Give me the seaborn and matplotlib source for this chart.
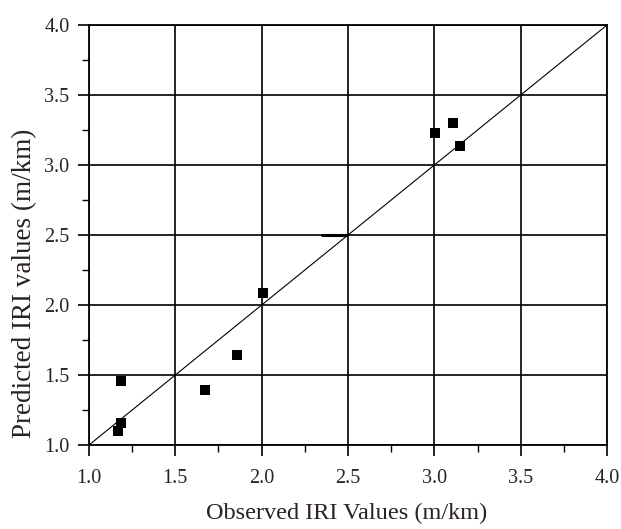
import matplotlib
matplotlib.use("Agg")
import matplotlib.pyplot as plt
import seaborn as sns
import pandas as pd
from matplotlib.ticker import MultipleLocator

observed = [1.188, 1.188, 1.168, 1.670, 1.860, 2.005, 3.003, 3.109, 3.148]
predicted = [1.454, 1.157, 1.102, 1.390, 1.645, 2.086, 3.229, 3.300, 3.138]
line_x = [1.0, 4.0]
line_y = [1.0, 4.0]
seg_x = [2.352, 2.497]
seg_y = [2.5, 2.5]

sns.set_theme(style="white")
plt.rcParams['font.family'] = ['Liberation Serif', 'DejaVu Serif']

fig = plt.figure(figsize=(6.21, 5.29), dpi=100)
ax = fig.add_axes([0.1433, 0.1588, 0.8342, 0.7939])

df = pd.DataFrame({"obs": observed, "pred": predicted})
sns.lineplot(x=line_x, y=line_y, ax=ax, color="black", linewidth=0.8, zorder=2)
sns.lineplot(x=seg_x, y=seg_y, ax=ax, color="black", linewidth=2.2, zorder=2)
sns.scatterplot(data=df, x="obs", y="pred", ax=ax, marker="s", s=42,
                color="black", edgecolor="black", linewidth=0, zorder=3)

ax.set_xlim(1.0, 4.0)
ax.set_ylim(1.0, 4.0)
ax.xaxis.set_major_locator(MultipleLocator(0.5))
ax.yaxis.set_major_locator(MultipleLocator(0.5))
ax.xaxis.set_minor_locator(MultipleLocator(0.25))
ax.yaxis.set_minor_locator(MultipleLocator(0.25))
ax.grid(True, which="major", color="black", linewidth=1.2)
ax.set_axisbelow(True)
for s in ax.spines.values():
    s.set_color("black")
    s.set_linewidth(1.3)
ax.tick_params(which="major", direction="out", length=8, width=1.2, color="black",
               labelsize=14.5, labelcolor="#2a2222", bottom=True, left=True)
ax.tick_params(axis="x", which="major", pad=9)
ax.tick_params(axis="y", which="major", pad=6)
ax.tick_params(which="minor", direction="out", length=5, width=1.0, color="black",
               bottom=True, left=True)
ax.set_xticklabels([f"{v:.1f}" for v in ax.get_xticks()])
ax.set_yticklabels([f"{v:.1f}" for v in ax.get_yticks()])
ax.set_xlabel("Observed IRI Values (m/km)", fontsize=17.5, color="#2a2222")
ax.set_ylabel("Predicted IRI values (m/km)", fontsize=19.5, color="#2a2222")
ax.xaxis.set_label_coords(0.497, -0.138)
ax.yaxis.set_label_coords(-0.1, 0.385)

fig.savefig("out.png", dpi=100)
